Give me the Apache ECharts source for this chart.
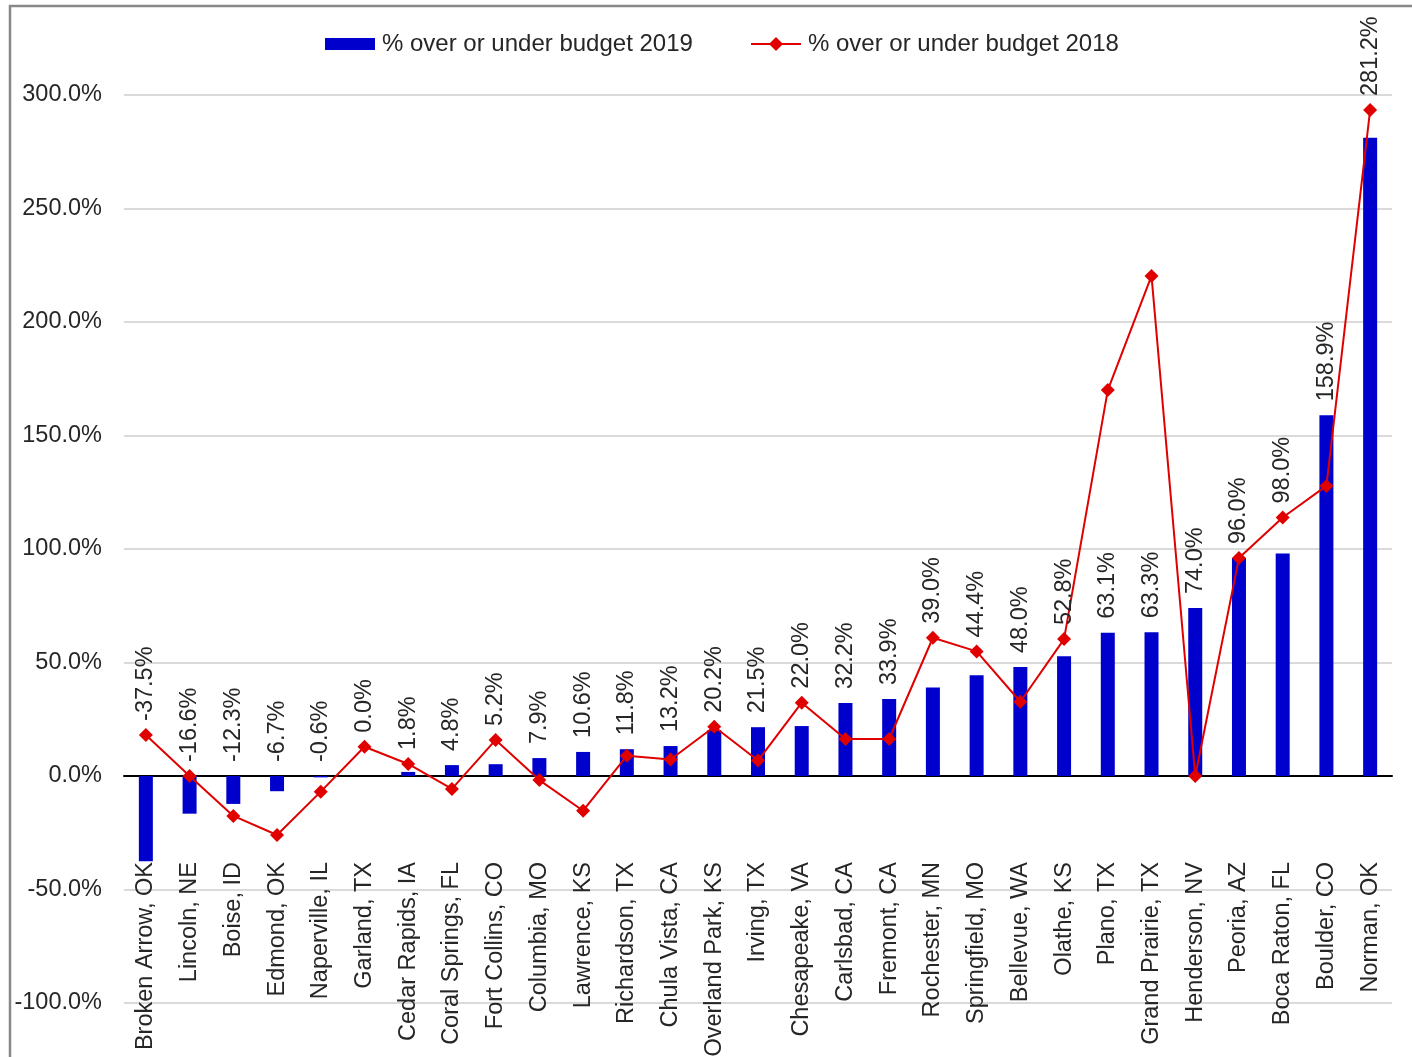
<!DOCTYPE html>
<html><head><meta charset="utf-8">
<script src="https://cdn.jsdelivr.net/npm/echarts@6/dist/echarts.min.js"></script>
<style>html,body{margin:0;padding:0;background:#fff}#c{width:1412px;height:1057px}</style>
</head><body><div id="c"></div>
<script>
const cities = ["Broken Arrow, OK","Lincoln, NE","Boise, ID","Edmond, OK","Naperville, IL","Garland, TX","Cedar Rapids, IA","Coral Springs, FL","Fort Collins, CO","Columbia, MO","Lawrence, KS","Richardson, TX","Chula Vista, CA","Overland Park, KS","Irving, TX","Chesapeake, VA","Carlsbad, CA","Fremont, CA","Rochester, MN","Springfield, MO","Bellevue, WA","Olathe, KS","Plano, TX","Grand Prairie, TX","Henderson, NV","Peoria, AZ","Boca Raton, FL","Boulder, CO","Norman, OK"];
const budget2019 = [-37.5,-16.6,-12.3,-6.7,-0.6,0.0,1.8,4.8,5.2,7.9,10.6,11.8,13.2,20.2,21.5,22.0,32.2,33.9,39.0,44.4,48.0,52.8,63.1,63.3,74.0,96.0,98.0,158.9,281.2];
const budget2018 = [18.1,0.0,-17.6,-26.0,-6.9,12.9,5.3,-5.7,15.9,-1.8,-15.3,8.9,7.3,21.7,6.8,32.3,16.3,16.3,60.9,54.9,32.7,60.3,170.0,220.3,0.0,96.0,113.9,127.8,293.4];
const seriesNames = ["% over or under budget 2019","% over or under budget 2018"];
const yMin = -100, yMax = 300, yStep = 50;

// label anchor: top of the bar (or zero), lifted over a nearby 2018 marker
const labelAnchor = budget2019.map((v, i) => {
  const top = Math.max(v, 0);
  const l = budget2018[i];
  return (l > top && l - top < 30) ? l : top;
});

const FONT = '"Liberation Sans", Arial, sans-serif';
const FS = 23.5;
const TXT = '#262626';
const chart = echarts.init(document.getElementById('c'), null, {renderer: 'canvas'});
chart.setOption({
  animation: false,
  backgroundColor: '#fff',
  textStyle: {fontFamily: FONT},
  graphic: [{
    type: 'rect', silent: true, z: 100,
    shape: {x: 10, y: 6, width: 1500, height: 1200},
    style: {fill: 'none', stroke: '#888', lineWidth: 2.5}
  }],
  legend: [{
    data: [{name: seriesNames[0], icon: 'rect'}],
    left: 320, top: 27,
    itemWidth: 50, itemHeight: 12,
    textStyle: {fontFamily: FONT, fontSize: 24, color: TXT, padding: [0,0,0,2]}
  }, {
    data: [seriesNames[1]],
    left: 745, top: 27,
    itemWidth: 50, itemHeight: 17.5,
    textStyle: {fontFamily: FONT, fontSize: 24, color: TXT, padding: [0,0,0,2]}
  }],
  grid: {left: 124, right: 20, top: 95, bottom: 54, outerBoundsMode: 'none', containLabel: false},
  xAxis: {
    type: 'category', data: cities,
    axisLine: {onZero: true, lineStyle: {color: '#000', width: 2}},
    axisTick: {show: false},
    splitLine: {show: false},
    axisLabel: {rotate: 90, margin: -141, interval: 0, fontFamily: FONT, fontSize: FS, color: TXT}
  },
  yAxis: {
    type: 'value', min: yMin, max: yMax, interval: yStep,
    axisLine: {show: false}, axisTick: {show: false},
    splitLine: {lineStyle: {color: '#dadada', width: 2}},
    axisLabel: {margin: 22, fontFamily: FONT, fontSize: FS, color: TXT,
      formatter: v => v.toFixed(1) + '%'}
  },
  series: [
    {
      name: seriesNames[0], type: 'bar', data: budget2019, barWidth: 14,
      itemStyle: {color: '#0000CC'}, z: 2
    },
    {
      name: seriesNames[1], type: 'line', data: budget2018,
      symbol: 'diamond', symbolSize: 14, showAllSymbol: true,
      lineStyle: {color: '#E00000', width: 2},
      itemStyle: {color: '#E00000'}, z: 3
    },
    {
      name: 'labels', type: 'scatter', data: labelAnchor, silent: true,
      symbolSize: 0, itemStyle: {color: 'rgba(0,0,0,0)', opacity: 1}, z: 4,
      label: {
        show: true, position: 'top', distance: 14, rotate: 90,
        align: 'left', verticalAlign: 'middle',
        fontFamily: FONT, fontSize: FS, color: TXT,
        formatter: p => budget2019[p.dataIndex].toFixed(1) + '%'
      }
    }
  ]
});
</script></body></html>
